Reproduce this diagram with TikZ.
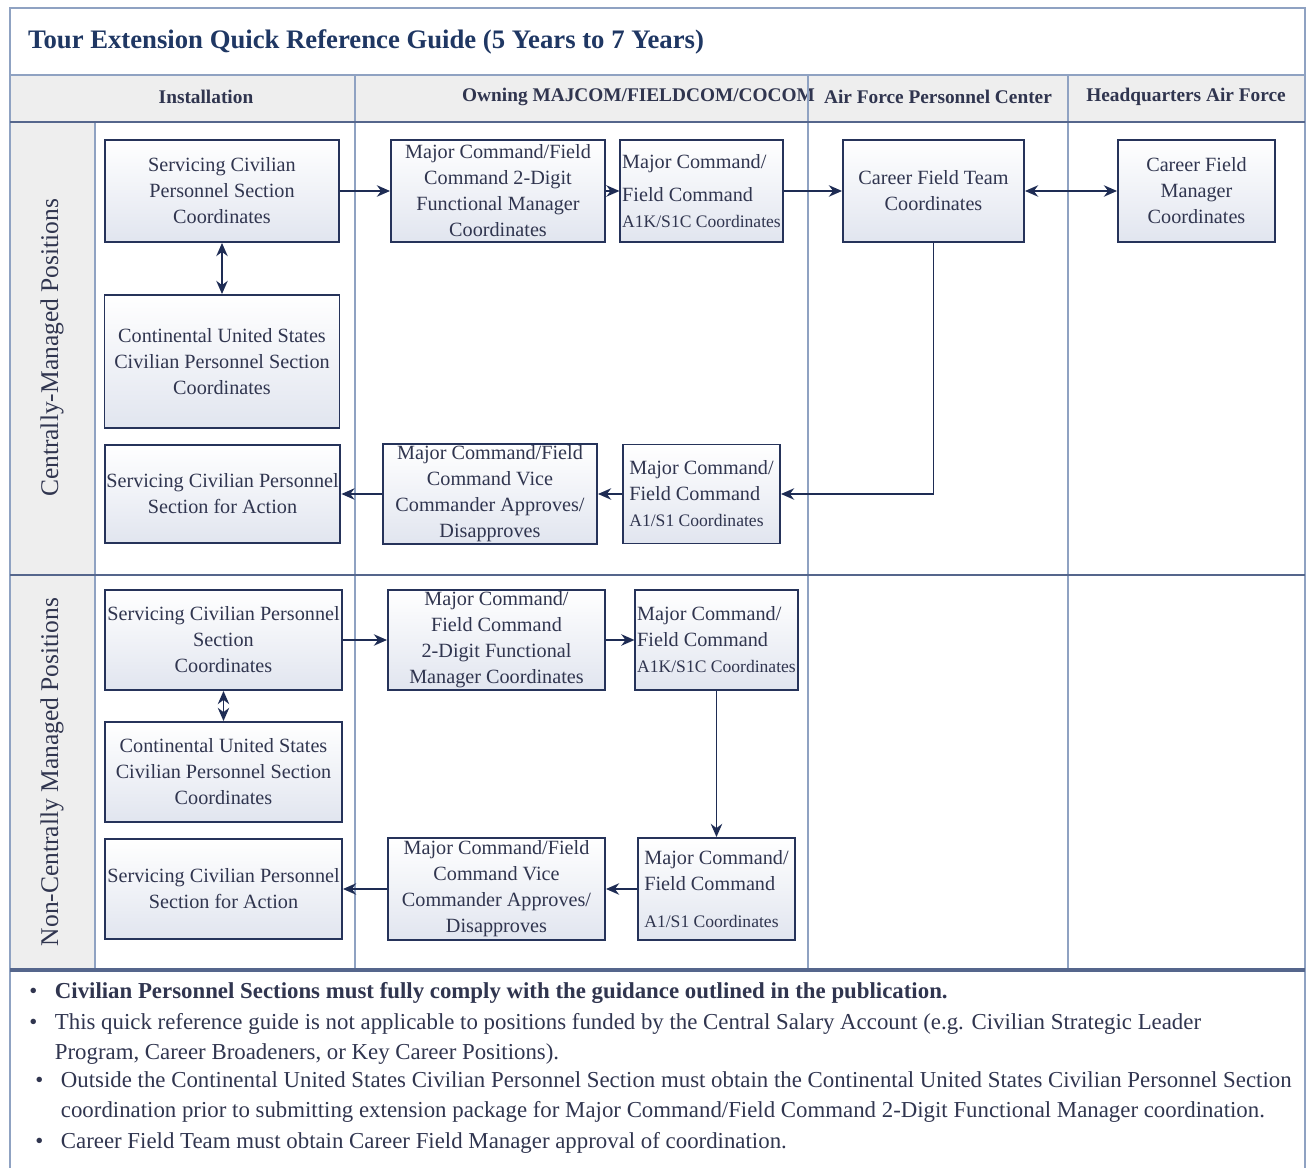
\documentclass[tikz,border=0pt]{standalone}
\usepackage{fontspec}
\setmainfont{Liberation Serif}
\usetikzlibrary{arrows.meta,positioning,calc}
\definecolor{gridColor}{HTML}{8FA2C2}
\definecolor{frameColor}{HTML}{55668C}
\definecolor{headColor}{HTML}{EEEEEE}
\definecolor{titleColor}{HTML}{1F3763}
\definecolor{boxLine}{HTML}{26335A}
\definecolor{boxText}{HTML}{30354F}
\definecolor{boxFill}{HTML}{E1E5EF}
\definecolor{arrowColor}{HTML}{1E2C54}
\tikzset{
	procbox/.style={draw=boxLine, line width=1.1pt, top color=white, bottom color=boxFill,
		text=boxText, align=center, inner sep=1pt, font=\fontsize{11.5}{14.8}\selectfont},
	boxsize/.style 2 args={minimum width=#1*0.02cm, minimum height=#2*0.02cm},
	titlelab/.style={anchor=west, text=titleColor, font=\bfseries\fontsize{15.2}{18}\selectfont},
	headlab/.style={text=boxText, font=\bfseries\fontsize{11}{13}\selectfont},
	rowlab/.style={rotate=90, text=boxText, font=\fontsize{14.5}{17}\selectfont},
	notelab/.style={anchor=north west, align=left, inner sep=0pt, text=boxText,
		font=\fontsize{13}{17}\selectfont},
	tipshape/.style={>={Stealth[length=7.5pt,width=6.5pt]}},
	flow/.style={tipshape, ->, draw=arrowColor, line width=1.1pt},
	twoway/.style={tipshape, <->, draw=arrowColor, line width=1.1pt}
}
\newcommand{\dotgap}{\hspace{10pt}}
\newcommand{\smallline}[1]{{\fontsize{10}{13}\selectfont #1}}

\begin{document}
\begin{tikzpicture}[x=0.02cm, y=-0.02cm]
	\useasboundingbox (0,0) rectangle (1313,1168);
	% shaded header row and row-label column
	\fill[headColor] (10,75) rectangle (1305,122);
	\fill[headColor] (10,122) rectangle (95,970);
	
	\node[titlelab] (title) at (22,42) {Tour Extension Quick Reference Guide (5 Years to 7 Years)};
	\node[headlab] (hInst) at (206,97) {Installation};
	\node[headlab, anchor=west] (hMaj) at (456,97) {Owning MAJCOM/FIELDCOM/COCOM};
	\node[headlab] (hAFPC) at (938,97) {Air Force Personnel Center};
	\node[headlab] (hHAF) at (1186,97) {Headquarters Air Force};
	\node[rowlab] (rCM) at (52,348) {Centrally-Managed Positions};
	\node[rowlab] (rNCM) at (52,772) {Non-Centrally Managed Positions};
	
	% grid lines
	\draw[gridColor, line width=1pt] (10,1168) -- (10,8) -- (1305,8) -- (1305,1168);
	\draw[gridColor, line width=1pt] (10,75) -- (1305,75);
	\foreach \gx in {355,808,1068}
		\draw[gridColor, line width=0.8pt] (\gx,75) -- (\gx,970);
	\draw[gridColor, line width=0.8pt] (95,122) -- (95,970);
	\draw[frameColor, line width=1.2pt] (10,122) -- (1305,122);
	\draw[frameColor, line width=1pt] (10,575) -- (1305,575);
	\draw[frameColor, line width=1.8pt] (10,970) -- (1305,970);
	
	% centrally-managed
	\node[procbox, boxsize={234}{102}] (scps1) at (222,191) {Servicing Civilian\\Personnel Section\\Coordinates};
	\node[procbox, boxsize={235}{133}] (conus1) at (222,361.5) {Continental United States\\Civilian Personnel Section\\Coordinates};
	\node[procbox, boxsize={235}{98}] (act1) at (222.5,494) {Servicing Civilian Personnel\\Section for Action};
	\node[procbox, boxsize={214}{102}] (fm1) at (498,191) {Major Command/Field\\Command 2-Digit\\Functional Manager\\Coordinates};
	\node[procbox, boxsize={157}{102}, align=left] (a1k1) at (701.5,191) {Major Command/\\[4pt]Field Command\\\smallline{A1K/S1C Coordinates}};
	\node[procbox, boxsize={181}{102}] (cft) at (933.5,191) {Career Field Team\\Coordinates};
	\node[procbox, boxsize={157}{102}] (cfm) at (1196.5,191) {Career Field\\Manager\\Coordinates};
	\node[procbox, boxsize={214}{99}] (vc1) at (490,494) {Major Command/Field\\Command Vice\\Commander Approves/\\Disapproves};
	\node[procbox, boxsize={157}{99}, align=left] (a1s1) at (701.5,494) {Major Command/\\Field Command\\\smallline{A1/S1 Coordinates}};
	
	\draw[flow] (scps1) -- (fm1);
	\draw[flow] (fm1) -- (a1k1);
	\draw[flow] (a1k1) -- (cft);
	\draw[twoway] (cft) -- (cfm);
	\draw[twoway] (scps1) -- (conus1);
	\draw[flow] (cft) |- (a1s1);
	\draw[flow] (a1s1) -- (vc1);
	\draw[flow] (vc1) -- (act1);
	
	% non-centrally managed
	\node[procbox, boxsize={237}{100}] (scps2) at (223.5,640) {Servicing Civilian Personnel\\Section\\Coordinates};
	\node[procbox, boxsize={237}{100}] (conus2) at (223.5,772) {Continental United States\\Civilian Personnel Section\\Coordinates};
	\node[procbox, boxsize={237}{100}] (act2) at (223.5,889) {Servicing Civilian Personnel\\Section for Action};
	\node[procbox, boxsize={217}{100}] (fm2) at (496.5,640) {Major Command/\\Field Command\\2-Digit Functional\\Manager Coordinates};
	\node[procbox, boxsize={157}{100}, align=left] (a1k2) at (716.5,640) {Major Command/\\Field Command\\\smallline{A1K/S1C Coordinates}};
	\node[procbox, boxsize={217}{102}] (vc2) at (496.5,889) {Major Command/Field\\Command Vice\\Commander Approves/\\Disapproves};
	\node[procbox, boxsize={157}{102}, align=left] (a1s2) at (716.5,889) {Major Command/\\Field Command\\[6pt]\smallline{A1/S1 Coordinates}};
	
	\draw[flow] (scps2) -- (fm2);
	\draw[flow] (fm2) -- (a1k2);
	\draw[twoway] (scps2) -- (conus2);
	\draw[flow] (a1k2) -- (a1s2);
	\draw[flow] (a1s2) -- (vc2);
	\draw[flow] (vc2) -- (act2);
	
	% notes
	\node[notelab] (note1) at (29,982) {\textbullet\dotgap\textbf{Civilian Personnel Sections must fully comply with the guidance outlined in the publication.}};
	\node[notelab] (note2) at (29,1013) {\textbullet\dotgap This quick reference guide is not applicable to positions funded by the Central Salary Account (e.g. Civilian Strategic Leader\\
		\phantom{\textbullet}\dotgap Program, Career Broadeners, or Key Career Positions).};
	\node[notelab] (note3) at (35,1071) {\textbullet\dotgap Outside the Continental United States Civilian Personnel Section must obtain the Continental United States Civilian Personnel Section\\
		\phantom{\textbullet}\dotgap coordination prior to submitting extension package for Major Command/Field Command 2-Digit Functional Manager coordination.};
	\node[notelab] (note4) at (35,1132) {\textbullet\dotgap Career Field Team must obtain Career Field Manager approval of coordination.};
\end{tikzpicture}
\end{document}
